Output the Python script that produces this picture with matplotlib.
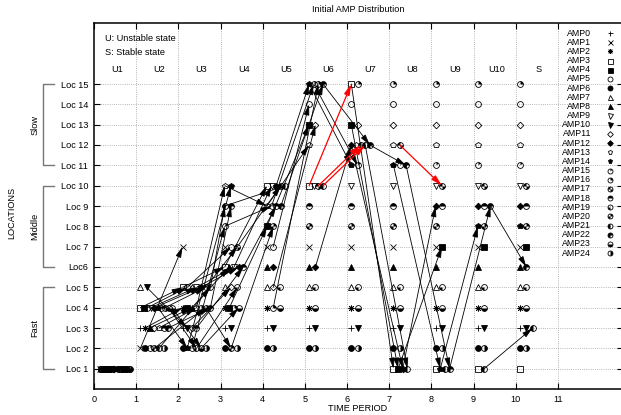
import numpy as np
import matplotlib
matplotlib.use("Agg")
import matplotlib.pyplot as plt
from matplotlib.path import Path
from matplotlib.transforms import blended_transform_factory

plt.rcParams['font.family'] = ['Liberation Sans', 'DejaVu Sans']

# ---------------- data ----------------
PERIODS = ['U1', 'U2', 'U3', 'U4', 'U5', 'U6', 'U7', 'U8', 'U9', 'U10', 'S']
X_TICKS = list(range(0, 12))
LOC_VALUES = list(range(1, 16))
LOC_LABELS = ['Loc 1', 'Loc 2', 'Loc 3', 'Loc 4', 'Loc 5', 'Loc6', 'Loc 7', 'Loc 8',
              'Loc 9', 'Loc 10', 'Loc 11', 'Loc 12', 'Loc 13', 'Loc 14', 'Loc 15']
AMP_NAMES = ['AMP%d' % i for i in range(25)]
GROUPS = ['Slow', 'Middle', 'Fast']
GROUP_LOW = [11, 6, 1]
GROUP_HIGH = [15, 10, 5]

# location of every AMP in each period (U1 ... U10, S)
AMP0_LOC = [1, 3, 3, 3, 3, 3, 3, 3, 3, 3, 3]
AMP1_LOC = [1, 2, 7, 7, 7, 7, 7, 7, 7, 7, 7]
AMP2_LOC = [1, 3, 4, 4, 4, 4, 4, 4, 4, 4, 4]
AMP3_LOC = [1, 4, 5, 6, 10, 10, 15, 1, 1, 1, 1]
AMP4_LOC = [1, 4, 4, 4, 8, 13, 13, 1, 7, 7, 7]
AMP5_LOC = [1, 4, 5, 7, 7, 14, 14, 14, 14, 14, 14]
AMP6_LOC = [1, 2, 2, 2, 2, 2, 2, 2, 2, 2, 2]
AMP7_LOC = [1, 5, 5, 5, 5, 5, 5, 5, 5, 5, 5]
AMP8_LOC = [1, 3, 4, 6, 6, 6, 6, 6, 6, 6, 6]
AMP9_LOC = [1, 4, 5, 6, 10, 10, 10, 10, 10, 10, 10]
AMP10_LOC = [1, 5, 3, 3, 3, 3, 3, 3, 3, 3, 3]
AMP11_LOC = [1, 3, 3, 5, 5, 13, 13, 13, 13, 13, 13]
AMP12_LOC = [1, 4, 5, 6, 6, 6, 12, 1, 9, 9, 9]
AMP13_LOC = [1, 3, 4, 10, 9, 12, 12, 12, 12, 12, 12]
AMP14_LOC = [1, 4, 2, 10, 10, 15, 11, 11, 1, 8, 8]
AMP15_LOC = [1, 2, 2, 8, 9, 15, 11, 11, 11, 11, 11]
AMP16_LOC = [1, 4, 4, 4, 4, 15, 15, 15, 15, 15, 15]
AMP17_LOC = [1, 4, 5, 7, 10, 10, 12, 12, 10, 10, 10]
AMP18_LOC = [1, 3, 3, 6, 9, 9, 9, 9, 9, 9, 9]
AMP19_LOC = [1, 4, 2, 5, 5, 5, 5, 5, 5, 5, 5]
AMP20_LOC = [1, 2, 4, 2, 8, 8, 8, 8, 8, 8, 8]
AMP21_LOC = [1, 2, 5, 9, 10, 10, 12, 1, 1, 1, 3]
AMP22_LOC = [1, 3, 4, 9, 9, 15, 12, 11, 1, 9, 6]
AMP23_LOC = [1, 4, 2, 4, 4, 4, 4, 4, 4, 4, 4]
AMP24_LOC = [1, 2, 2, 2, 2, 2, 2, 2, 2, 2, 2]

# moves drawn in red: (AMP index, period index of arrival)
RED_MOVES = [(3, 6), (17, 6), (21, 6), (17, 8)]
FIRST_ARROW_PERIOD = 2

tracks = np.array([AMP0_LOC, AMP1_LOC, AMP2_LOC, AMP3_LOC, AMP4_LOC, AMP5_LOC,
                   AMP6_LOC, AMP7_LOC, AMP8_LOC, AMP9_LOC, AMP10_LOC, AMP11_LOC,
                   AMP12_LOC, AMP13_LOC, AMP14_LOC, AMP15_LOC, AMP16_LOC,
                   AMP17_LOC, AMP18_LOC, AMP19_LOC, AMP20_LOC, AMP21_LOC,
                   AMP22_LOC, AMP23_LOC, AMP24_LOC])
n_amp, n_per = tracks.shape

# ---------------- marker styles ----------------
def wedge_path(segs):
    return Path.make_compound_path(*[Path.wedge(a, b) for a, b in segs])

WEDGES = {
    15: [(45, 90)], 16: [(0, 90)], 17: [(90, 180), (270, 360)],
    18: [(0, 180)], 19: [(180, 270)], 20: [(0, 90), (180, 270)],
    21: [(90, 270)], 22: [(0, 270)], 23: [(180, 360)], 24: [(270, 450)],
}

SIMPLE = {
    0: dict(marker='+', fillstyle='full'),
    1: dict(marker='x', fillstyle='full'),
    2: dict(marker=(8, 2, 0), fillstyle='full'),
    3: dict(marker='s', fillstyle='none'),
    4: dict(marker='s', fillstyle='full'),
    5: dict(marker='o', fillstyle='none'),
    6: dict(marker='o', fillstyle='full'),
    7: dict(marker='^', fillstyle='none'),
    8: dict(marker='^', fillstyle='full'),
    9: dict(marker='v', fillstyle='none'),
    10: dict(marker='v', fillstyle='full'),
    11: dict(marker='D', fillstyle='none'),
    12: dict(marker='D', fillstyle='full'),
    13: dict(marker='p', fillstyle='none'),
    14: dict(marker='p', fillstyle='full'),
}
MS = 4.2


def draw_amp(target, xs, ys, i, size=MS, **kw):
    ms = size * (0.8 if i in (11, 12) else 1.0)
    if i in SIMPLE:
        st = SIMPLE[i]
        target.plot(xs, ys, linestyle='none', marker=st['marker'], fillstyle=st['fillstyle'],
                    color='black', markersize=ms, markeredgewidth=0.6, **kw)
    else:
        target.plot(xs, ys, linestyle='none', marker='o', fillstyle='none',
                    color='black', markersize=ms, markeredgewidth=0.6, **kw)
        target.plot(xs, ys, linestyle='none', marker=wedge_path(WEDGES[i]),
                    color='black', markersize=ms, markeredgewidth=0, **kw)


# ---------------- figure ----------------
W, H = 621, 415
fig = plt.figure(figsize=(W / 100, H / 100), dpi=100)
px_unit = 42.18
ax_l, ax_r, ax_t, ax_b = 94, 623, 23, 389
ax = fig.add_axes([ax_l / W, 1 - ax_b / H, (ax_r - ax_l) / W, (ax_b - ax_t) / H])
ax.set_xlim(0, (ax_r - ax_l) / px_unit)
ax.set_ylim(0, 18)

ax.set_xticks(X_TICKS)
ax.set_xticklabels([str(v) for v in X_TICKS])
ax.set_yticks(LOC_VALUES)
ax.set_yticklabels(LOC_LABELS)
ax.tick_params(direction='in', length=4.3, width=0.8, top=True, right=True,
               labelsize=6.6, colors='black')
ax.tick_params(axis='x', pad=4)
ax.tick_params(axis='y', pad=4.3)
for s in ax.spines.values():
    s.set_linewidth(1.1)
    s.set_color('black')

grid_kw = dict(color='#a0a0a0', linewidth=0.6, linestyle=(0, (1, 1.6)), zorder=0)
for v in X_TICKS[1:]:
    ax.axvline(v, **grid_kw)
for v in LOC_VALUES:
    ax.axhline(v, **grid_kw)

# positions within each period column
xpos = np.zeros(tracks.shape, dtype=float)
for p in range(n_per):
    for L in np.unique(tracks[:, p]):
        members = [i for i in range(n_amp) if tracks[i, p] == L]
        n = len(members)
        d = 0.15 if n <= 3 else min(0.11, 0.75 / (n - 1))
        for r, i in enumerate(members):
            xpos[i, p] = p + 0.1 + r * d

for i in range(n_amp):
    draw_amp(ax, xpos[i], tracks[i], i, zorder=3)

for i in range(n_amp):
    for p in range(FIRST_ARROW_PERIOD, n_per):
        if tracks[i, p] != tracks[i, p - 1]:
            red = (i, p) in RED_MOVES
            ax.annotate('', xy=(xpos[i, p], tracks[i, p]),
                        xytext=(xpos[i, p - 1], tracks[i, p - 1]),
                        arrowprops=dict(arrowstyle='-|>,head_length=0.65,head_width=0.17',
                                        color='#ff0000' if red else 'black',
                                        lw=0.9 if red else 0.6,
                                        shrinkA=0, shrinkB=0, mutation_scale=10),
                        zorder=5 if red else 4)

# period labels
for p, name in enumerate(PERIODS):
    ax.text(p + 0.55, 15.69, name, ha='center', va='center', fontsize=6.6)
ax.text(0.26, 17.26, 'U: Unstable state', ha='left', va='center', fontsize=6.6)
ax.text(0.26, 16.57, 'S: Stable state', ha='left', va='center', fontsize=6.6)

# group brackets
tr = blended_transform_factory(fig.transFigure, ax.transData)
bx0, bx1 = 43 / W, 54 / W
for g, lo, hi in zip(GROUPS, GROUP_LOW, GROUP_HIGH):
    ax.plot([bx1, bx0, bx0, bx1], [hi, hi, lo, lo], color='#777777', lw=1.0,
            transform=tr, clip_on=False)
    ax.text(35 / W, (lo + hi) / 2, g, rotation=90, ha='center', va='center',
            fontsize=6.6, transform=tr)

fig.text(12 / W, 1 - 213 / H, 'LOCATIONS', rotation=90, ha='center', va='center', fontsize=6.6)
fig.text(358 / W, 1 - 408 / H, 'TIME PERIOD', ha='center', va='center', fontsize=6.6)
fig.text(358 / W, 1 - 10 / H, 'Initial AMP Distribution', ha='center', va='center', fontsize=6.6)

# key
for i, name in enumerate(AMP_NAMES):
    yk = 1 - (33 + i * 9.17) / H
    fig.text(591 / W, yk, name, ha='right', va='center', fontsize=6.3)
    draw_amp(ax, [610 / W], [yk], i, size=3.6, transform=fig.transFigure,
             clip_on=False, zorder=6)

fig.savefig('out.png', dpi=100)
